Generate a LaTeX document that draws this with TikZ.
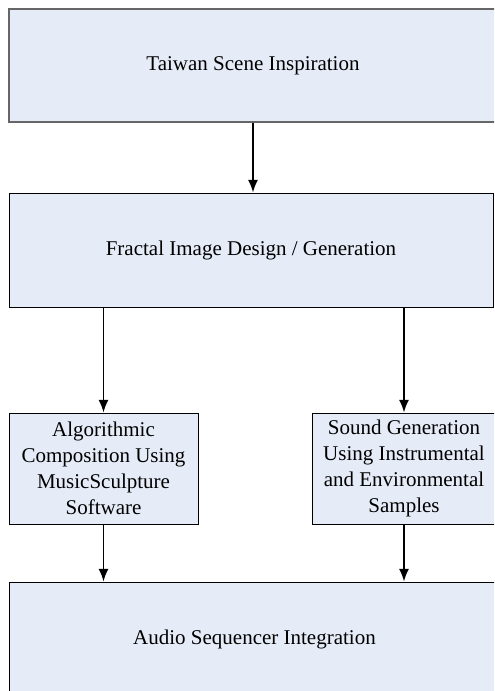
\documentclass[tikz,border=0pt]{standalone}
\usepackage{fontspec}
\setmainfont{Liberation Serif}
\usetikzlibrary{arrows.meta}
\newlength\px
\setlength\px{0.6pt}
\definecolor{boxfill}{HTML}{E6ECF7}
\tikzset{
  box/.style={draw=black, line width=1\px, fill=boxfill, align=center,
    inner sep=0pt, font=\fontsize{12.6}{15.6}\selectfont},
  arrow/.style={line width=1.6\px, -{Latex[length=7.6pt,width=6pt]}}
}
\begin{document}
\begin{tikzpicture}[x=0.6pt, y=-0.6pt]

\useasboundingbox (0,0) rectangle (494,691);
\clip (0,0) rectangle (494,691);

\node[box, draw=black!60, line width=2\px, minimum width=488\px, minimum height=113\px]
  (inspire) at (253,65.5) {Taiwan Scene Inspiration};
\node[box, minimum width=484\px, minimum height=114\px]
  (fractal) at (251,250) {Fractal Image Design / Generation};

\node[box, minimum width=189\px, minimum height=111\px]
  (algo) at (103.5,468.5) {Algorithmic\\Composition Using\\MusicSculpture\\Software};
\node[box, minimum width=183\px, minimum height=111\px]
  (sound) at (404,468.5) {Sound Generation\\Using Instrumental\\and Environmental\\Samples};

\node[box, minimum width=491\px, minimum height=114\px]
  (audio) at (254.5,639) {Audio Sequencer Integration};

\draw[arrow] (inspire.south) -- (inspire.south |- fractal.north);
\draw[arrow] (algo.north |- fractal.south) -- (algo.north);
\draw[arrow] (sound.north |- fractal.south) -- (sound.north);
\draw[arrow] (algo.south) -- (algo.south |- audio.north);
\draw[arrow] (sound.south) -- (sound.south |- audio.north);

\end{tikzpicture}
\end{document}
